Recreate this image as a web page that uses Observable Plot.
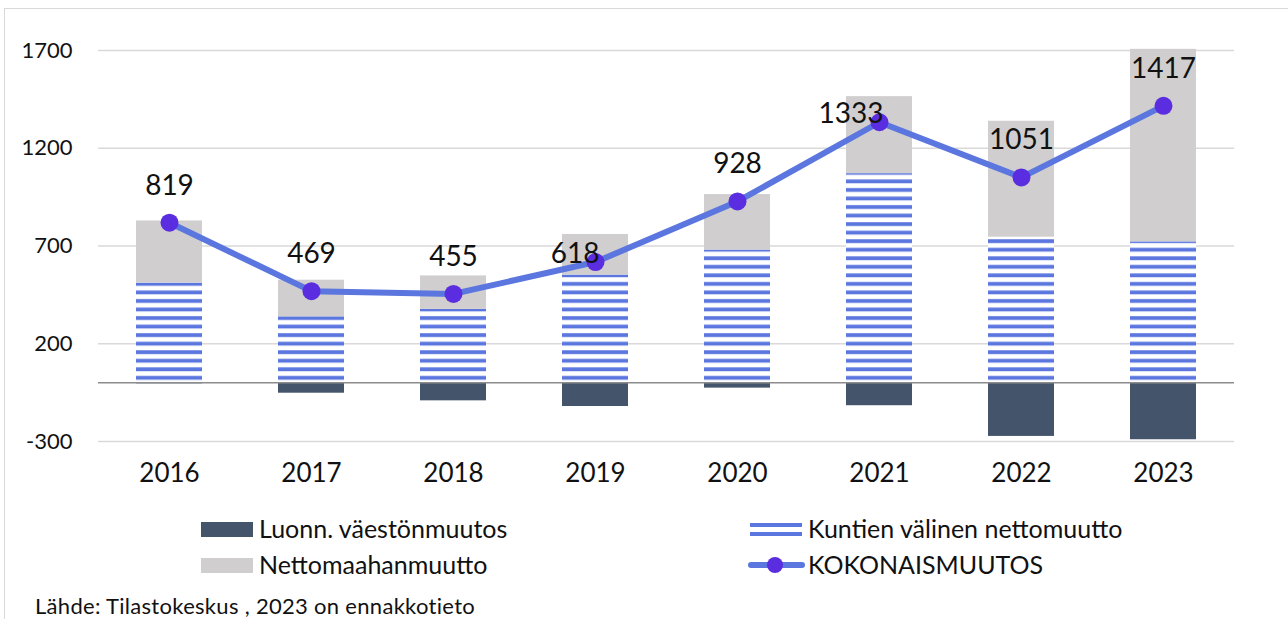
<!DOCTYPE html>
<html>
<head>
<meta charset="utf-8">
<script src="https://cdn.jsdelivr.net/npm/d3@7"></script>
<script src="https://cdn.jsdelivr.net/npm/@observablehq/plot@0.6"></script>
<style>
  html, body { margin: 0; padding: 0; background: #fff; }
  body { width: 1288px; height: 619px; position: relative; overflow: hidden; font-family: Lato, "Open Sans", sans-serif; color: #111; }
  #frame { position: absolute; left: 4px; top: 8px; width: 1290px; height: 640px; border: 1px solid #d9d9d9; box-sizing: border-box; }
  #chart { position: absolute; left: 0; top: 0; }
  .leg { position: absolute; font-size: 25px; line-height: 25px; white-space: nowrap; }
  .sw { position: absolute; }
  #caption { position: absolute; left: 35px; top: 595px; font-size: 22px; line-height: 22px; letter-spacing: 0.3px; white-space: nowrap; }
</style>
</head>
<body>
<div id="frame"></div>
<div id="chart"></div>
<div class="sw" style="left:201px;top:522px;width:52px;height:15px;background:#44546A"></div>
<div class="leg" style="left:259px;top:516px">Luonn. väestönmuutos</div>
<div class="sw" style="left:201px;top:558px;width:52px;height:15px;background:#D0CECE"></div>
<div class="leg" style="left:259px;top:552px">Nettomaahanmuutto</div>
<div class="sw" style="left:750px;top:523px;width:52px;height:4px;background:#5B76DF"></div>
<div class="sw" style="left:750px;top:532px;width:52px;height:4px;background:#5B76DF"></div>
<div class="leg" style="left:808px;top:516px">Kuntien välinen nettomuutto</div>
<div class="sw" style="left:748px;top:562px;width:57px;height:6px;background:#5B76DF;border-radius:3px"></div>
<div class="sw" style="left:767px;top:557px;width:16px;height:16px;background:#5B2DE0;border-radius:50%"></div>
<div class="leg" style="left:808px;top:552px">KOKONAISMUUTOS</div>
<div id="caption">Lähde: Tilastokeskus , 2023 on ennakkotieto</div>
<script>
const years = ["2016","2017","2018","2019","2020","2021","2022","2023"];
const luonnollinen = [-5, -53, -92, -121, -27, -117, -274, -291];
const kuntienValinen = [510, 338, 376, 551, 679, 1070, 745, 721];
const nettomaahanmuutto = [318, 187, 171, 208, 284, 394, 593, 985];
const kokonaismuutos = [819, 469, 455, 618, 928, 1333, 1051, 1417];
const yTicks = [-300, 200, 700, 1200, 1700];
const seriesNames = ["Luonn. väestönmuutos", "Kuntien välinen nettomuutto", "Nettomaahanmuutto"];

const rows = [];
years.forEach((y, i) => {
  rows.push({year: y, series: seriesNames[0], value: luonnollinen[i]});
  rows.push({year: y, series: seriesNames[1], value: kuntienValinen[i]});
  rows.push({year: y, series: seriesNames[2], value: nettomaahanmuutto[i]});
});
const totals = years.map((y, i) => ({year: y, total: kokonaismuutos[i]}));
const leftLabeled = new Set(["2019", "2021"]);

const chart = Plot.plot({
  width: 1288,
  height: 495,
  marginLeft: 98,
  marginRight: 54,
  marginTop: 50,
  marginBottom: 54,
  style: {fontFamily: "Lato, 'Open Sans', sans-serif", color: "#111", background: "transparent", overflow: "visible"},
  x: {domain: years, paddingInner: 0.535, paddingOuter: 0.2675, label: null},
  y: {domain: [-300, 1700], label: null},
  color: {domain: seriesNames, range: ["#44546A", "url(#stripes)", "#D0CECE"]},
  marks: [
    Plot.ruleY(yTicks, {stroke: "#d9d9d9", strokeWidth: 1.5}),
    Plot.barY(rows, {x: "year", y: "value", fill: "series", order: seriesNames, clip: false}),
    Plot.ruleY([0], {stroke: "#8c8c8c", strokeWidth: 1.5}),
    Plot.axisY({ticks: yTicks, tickSize: 0, tickPadding: 26, fontSize: 22, tickFormat: d => String(d)}),
    Plot.axisX({tickSize: 0, tickPadding: 22, fontSize: 26}),
    Plot.line(totals, {x: "year", y: "total", stroke: "#5B76DF", strokeWidth: 6, strokeLinecap: "round", strokeLinejoin: "round"}),
    Plot.dot(totals, {x: "year", y: "total", r: 9, fill: "#5B2DE0"}),
    Plot.text(totals.filter(d => !leftLabeled.has(d.year)), {x: "year", y: "total", text: d => String(d.total), dy: -37, fontSize: 28, fill: "#111"}),
    Plot.text(totals.filter(d => leftLabeled.has(d.year)), {x: "year", y: "total", text: d => String(d.total), dy: -8, dx: 4, textAnchor: "end", fontSize: 28, fill: "#111"})
  ]
});

const ns = "http://www.w3.org/2000/svg";
const y0 = chart.scale("y").apply(0);
const defs = document.createElementNS(ns, "defs");
const pat = document.createElementNS(ns, "pattern");
pat.setAttribute("id", "stripes");
pat.setAttribute("patternUnits", "userSpaceOnUse");
pat.setAttribute("x", 0);
pat.setAttribute("y", y0);
pat.setAttribute("width", 10);
pat.setAttribute("height", 8.54);
const bg = document.createElementNS(ns, "rect");
bg.setAttribute("width", 10); bg.setAttribute("height", 8.54); bg.setAttribute("fill", "#ffffff");
const st = document.createElementNS(ns, "rect");
st.setAttribute("y", 2.1); st.setAttribute("width", 10); st.setAttribute("height", 3.8); st.setAttribute("fill", "#5B76DF");
pat.appendChild(bg); pat.appendChild(st);
defs.appendChild(pat);
chart.insertBefore(defs, chart.firstChild);
document.getElementById("chart").appendChild(chart);
</script>
</body>
</html>
